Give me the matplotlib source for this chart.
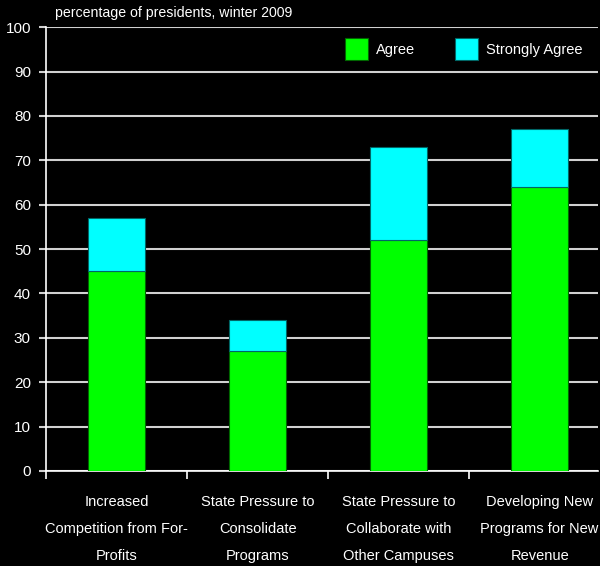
import matplotlib
matplotlib.use("Agg")
import matplotlib.pyplot as plt
import numpy as np

categories = ["Increased\nCompetition from For-\nProfits",
              "State Pressure to\nConsolidate\nPrograms",
              "State Pressure to\nCollaborate with\nOther Campuses",
              "Developing New\nPrograms for New\nRevenue"]
agree = [45, 27, 52, 64]
strongly_agree = [12, 7, 21, 13]
yticks = list(range(0, 101, 10))

plt.rcParams['font.family'] = ['Liberation Sans', 'DejaVu Sans']

fig = plt.figure(figsize=(6, 5.66), dpi=100, facecolor='black')
ax = fig.add_axes([0.077, 0.168, 0.92, 0.784], facecolor='black')

x = np.arange(len(categories))
w = 0.4
ax.bar(x, agree, w, color='#00ff00', edgecolor='#006600', linewidth=0.8, label='Agree', zorder=3)
ax.bar(x, strongly_agree, w, bottom=agree, color='#00ffff', edgecolor='#006666', linewidth=0.8,
       label='Strongly Agree', zorder=3)

ax.set_xlim(-0.5, len(categories) - 0.585)
ax.set_ylim(0, 100)
ax.set_yticks(yticks)
ax.set_yticklabels([str(v) for v in yticks], color='white', fontsize=11)
ax.yaxis.grid(True, color='#d0d0d0', linewidth=1.5, zorder=1)
ax.set_axisbelow(True)

ax.set_xticks(np.arange(len(categories)) - 0.5)
ax.set_xticklabels([])
ax.set_xticks(x, minor=True)
ax.set_xticklabels(categories, minor=True, color='white', fontsize=10.5, linespacing=2.2)
ax.tick_params(axis='x', which='minor', length=0, pad=17)
ax.tick_params(axis='x', which='major', length=6, color='white', width=1.2)
ax.tick_params(axis='y', length=5, color='#d0d0d0', width=1.5, pad=6)

for s in ['top', 'right']:
    ax.spines[s].set_visible(False)
ax.spines['left'].set_color('white')
ax.spines['bottom'].set_color('white')
ax.spines['left'].set_linewidth(1.2)
ax.spines['bottom'].set_linewidth(1.2)

fig.text(0.092, 0.977, "percentage of presidents, winter 2009", color='white', fontsize=10.2,
         ha='left', va='center')

leg = ax.legend(loc='upper right', ncol=2, frameon=False, handlelength=1.6,
                handleheight=1.9, handletextpad=0.55, columnspacing=2.7,
                bbox_to_anchor=(0.99, 0.998), borderaxespad=0.3,
                prop={'size': 10.5})
for t in leg.get_texts():
    t.set_color('white')

fig.savefig("out.png", dpi=100, facecolor='black')
